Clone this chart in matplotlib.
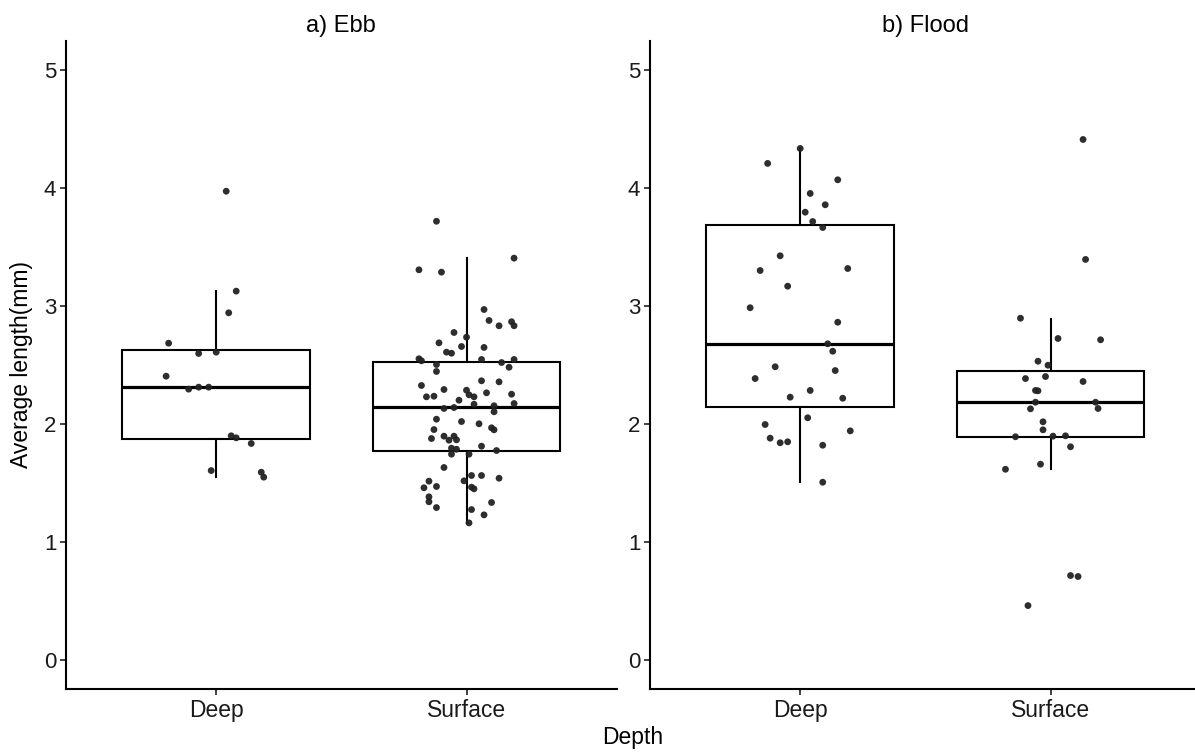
import matplotlib
matplotlib.use('Agg')
import matplotlib.pyplot as plt

plt.rcParams['font.family'] = ['Liberation Sans', 'DejaVu Sans']

categories = ['Deep', 'Surface']
panel_titles = ['a) Ebb', 'b) Flood']

# ── jittered observations (value, horizontal jitter in category units) ─────
ebb_deep_y = [3.975, 3.127, 2.943, 2.685, 2.598, 2.609, 2.405, 2.295,
              2.312, 2.312, 1.899, 1.882, 1.834, 1.604, 1.590, 1.548]
ebb_deep_dx = [0.04, 0.08, 0.05, -0.19, -0.07, 0.00, -0.20, -0.11,
               -0.07, -0.03, 0.06, 0.08, 0.14, -0.02, 0.18, 0.19]

ebb_surf_y = [3.72, 3.407, 3.308, 3.288, 2.971, 2.878, 2.833, 2.867, 2.833, 2.776,
              2.736, 2.688, 2.657, 2.649, 2.609, 2.600, 2.553, 2.536, 2.547, 2.547,
              2.521, 2.481, 2.504, 2.445, 2.366, 2.357, 2.326, 2.292, 2.286, 2.230,
              2.235, 2.247, 2.230, 2.264, 2.252, 2.201, 2.167, 2.173, 2.131, 2.139,
              2.154, 2.103, 2.040, 2.020, 2.001, 1.952, 1.967, 1.950, 1.876, 1.896,
              1.862, 1.896, 1.865, 1.811, 1.794, 1.785, 1.743, 1.743, 1.774, 1.630,
              1.562, 1.562, 1.539, 1.514, 1.517, 1.458, 1.469, 1.463, 1.449, 1.381,
              1.339, 1.290, 1.333, 1.273, 1.228, 1.160]
ebb_surf_dx = [-0.12, 0.19, -0.19, -0.10, 0.07, 0.09, 0.13, 0.18, 0.19, -0.05,
               0.00, -0.11, -0.02, 0.07, -0.08, -0.06, -0.19, -0.18, 0.06, 0.19,
               0.14, 0.17, -0.12, -0.12, 0.06, 0.13, -0.18, -0.09, 0.00, -0.16,
               -0.13, 0.01, 0.03, 0.08, 0.18, -0.03, 0.03, 0.19, -0.09, -0.05,
               0.11, 0.11, -0.12, -0.02, 0.05, -0.13, 0.10, 0.11, -0.14, -0.09,
               -0.07, -0.05, -0.04, 0.06, -0.06, -0.04, -0.06, 0.01, 0.12, -0.09,
               0.02, 0.06, 0.13, -0.15, -0.01, -0.17, -0.12, 0.02, 0.03, -0.15,
               -0.15, -0.12, 0.10, 0.02, 0.07, 0.01]

flood_deep_y = [4.338, 4.211, 4.072, 3.956, 3.860, 3.797, 3.718, 3.667, 3.427, 3.302,
                3.319, 3.169, 2.986, 2.863, 2.680, 2.617, 2.485, 2.453, 2.385, 2.284,
                2.227, 2.218, 2.052, 1.995, 1.941, 1.879, 1.840, 1.848, 1.819, 1.505]
flood_deep_dx = [0.00, -0.13, 0.15, 0.04, 0.10, 0.02, 0.05, 0.09, -0.08, -0.16,
                 0.19, -0.05, -0.20, 0.15, 0.11, 0.13, -0.10, 0.14, -0.18, 0.04,
                 -0.04, 0.17, 0.03, -0.14, 0.20, -0.12, -0.08, -0.05, 0.09, 0.09]

flood_surf_y = [4.414, 3.396, 2.897, 2.725, 2.714, 2.532, 2.498, 2.385, 2.402,
                2.360, 2.284, 2.281, 2.184, 2.184, 2.128, 2.131, 2.018, 1.950,
                1.891, 1.896, 1.899, 1.806, 1.658, 1.615, 0.713, 0.705, 0.458]
flood_surf_dx = [0.13, 0.14, -0.12, 0.03, 0.20, -0.05, -0.01, -0.10, -0.02,
                 0.13, -0.06, -0.05, -0.06, 0.18, -0.08, 0.19, -0.03, -0.03,
                 -0.14, 0.01, 0.06, 0.08, -0.04, -0.18, 0.08, 0.11, -0.09]

# ── box statistics (Deep, Surface) ─────────────────────────────────────────
ebb_whislo = [1.548, 1.160]
ebb_q1 = [1.870, 1.768]
ebb_med = [2.310, 2.142]
ebb_q3 = [2.630, 2.527]
ebb_whishi = [3.127, 3.407]

flood_whislo = [1.505, 1.615]
flood_q1 = [2.142, 1.890]
flood_med = [2.680, 2.184]
flood_q3 = [3.690, 2.453]
flood_whishi = [4.338, 2.892]

panels = [
    dict(title=panel_titles[0],
         pts=[(ebb_deep_y, ebb_deep_dx), (ebb_surf_y, ebb_surf_dx)],
         box=(ebb_whislo, ebb_q1, ebb_med, ebb_q3, ebb_whishi)),
    dict(title=panel_titles[1],
         pts=[(flood_deep_y, flood_deep_dx), (flood_surf_y, flood_surf_dx)],
         box=(flood_whislo, flood_q1, flood_med, flood_q3, flood_whishi)),
]

W, H = 1195, 753
fig = plt.figure(figsize=(W / 100, H / 100), dpi=100)
fig.patch.set_facecolor('white')

ax_w = 550.7 / W
ax_h = 648 / H
lefts = [66 / W, 650 / W]
bottom = 1 - 689 / H

for left, p in zip(lefts, panels):
    ax = fig.add_axes([left, bottom, ax_w, ax_h])
    lo, q1, med, q3, hi = p['box']
    stats = [dict(whislo=lo[i], q1=q1[i], med=med[i], q3=q3[i],
                  whishi=hi[i], fliers=[]) for i in range(len(categories))]
    ax.bxp(stats, positions=[1, 2], widths=0.75, showcaps=False,
           showfliers=False, patch_artist=True,
           boxprops=dict(facecolor='white', edgecolor='black', linewidth=1.5),
           whiskerprops=dict(color='black', linewidth=1.5),
           medianprops=dict(color='black', linewidth=2.3),
           zorder=2)

    for i, (ys, dxs) in enumerate(p['pts']):
        xs = [i + 1 + d for d in dxs]
        ax.scatter(xs, ys, s=24, color='#222222', edgecolors='none',
                   alpha=0.95, zorder=3)

    ax.set_xlim(0.4, 2.6)
    ax.set_ylim(-0.25, 5.25)
    ax.set_xticks([1, 2])
    ax.set_xticklabels(categories)
    ax.set_yticks([0, 1, 2, 3, 4, 5])
    ax.set_facecolor('white')
    for side in ('top', 'right'):
        ax.spines[side].set_visible(False)
    for side in ('left', 'bottom'):
        ax.spines[side].set_linewidth(1.5)
        ax.spines[side].set_color('black')
    ax.tick_params(axis='both', length=4, width=1.3, color='#333333',
                   labelcolor='#1a1a1a', pad=3)
    ax.tick_params(axis='x', labelsize=16.5)
    ax.tick_params(axis='y', labelsize=16)
    ax.set_title(p['title'], fontsize=17, pad=6.5, color='black')

fig.text(22 / W, 1 - 365 / H, 'Average length(mm)', rotation=90,
         ha='center', va='center', fontsize=16.5, color='black')
fig.text(633 / W, 1 - 744 / H, 'Depth', ha='center', va='baseline',
         fontsize=16.5, color='black')

fig.savefig('out.png', dpi=100, facecolor='white')
plt.close(fig)
